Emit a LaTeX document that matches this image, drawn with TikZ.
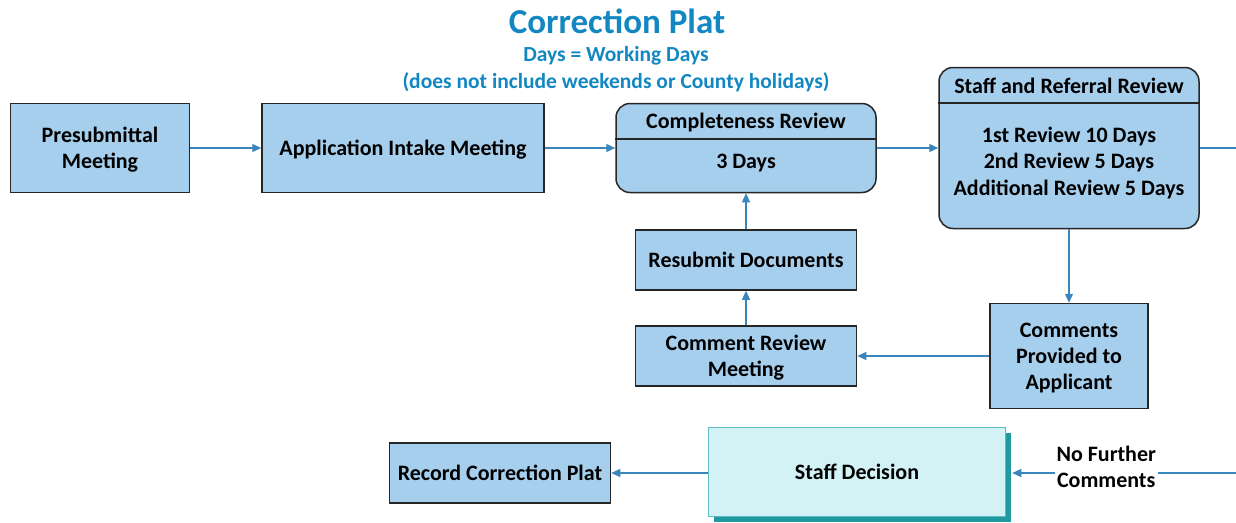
\documentclass[tikz,border=0pt]{standalone}
\usepackage{fontspec}
\setmainfont{Carlito}
\usetikzlibrary{arrows.meta,shadows,calc}
\definecolor{boxblue}{HTML}{A6CFEE}
\definecolor{linkblue}{HTML}{3A86BC}
\definecolor{titleblue}{HTML}{1287C2}
\definecolor{decfill}{HTML}{D3F2F5}
\definecolor{decedge}{HTML}{5FB9C2}
\definecolor{decshadow}{HTML}{1F9AA1}
\tikzset{
  stepbox/.style={draw=black!85, line width=1.5pt, fill=boxblue, font=\fontsize{22}{26}\selectfont\bfseries, align=center, inner sep=0pt, text depth=0pt},
  link/.style={draw=linkblue, line width=1.3pt, -{Triangle[length=9pt,width=8pt]}},
  boxtext/.style={font=\fontsize{22}{26.5}\selectfont\bfseries, align=center, inner sep=0pt, text depth=0pt}
}
\begin{document}
\begin{tikzpicture}[x=1pt,y=-1pt]
			%%%%% START %%%%%
			\useasboundingbox (0,0) rectangle (1236,522);
			
			\node[font=\fontsize{35}{40}\selectfont\bfseries, text=titleblue] (title) at (617,21) {Correction Plat};
			\node[font=\fontsize{21.5}{26}\selectfont\bfseries, text=titleblue] (sub1) at (616,56) {Days = Working Days};
			\node[font=\fontsize{21.5}{26}\selectfont\bfseries, text=titleblue] (sub2) at (616,82) {(does not include weekends or County holidays)};
			
			\node[stepbox, minimum width=179pt, minimum height=89pt] (pre) at (100,148) {Presubmittal\\Meeting};
			\node[stepbox, minimum width=282pt, minimum height=89pt] (intake) at (403,148) {Application Intake Meeting};
			
			\node[stepbox, rounded corners=14pt, minimum width=260pt, minimum height=89pt] (comp) at (746,148) {};
			\draw[black!85, line width=1.5pt] (comp.west |- 0,139) -- (comp.east |- 0,139);
			\node[boxtext] (compT) at (746,121) {Completeness Review};
			\node[boxtext] (compD) at (746,161) {3 Days};
			
			\node[stepbox, rounded corners=14pt, minimum width=260pt, minimum height=161pt] (staff) at (1069,148) {};
			\draw[black!85, line width=1.5pt] (staff.west |- 0,103) -- (staff.east |- 0,103);
			\node[boxtext] (staffT) at (1069,86) {Staff and Referral Review};
			\node[boxtext] (staffD) at (1069,161) {1st Review 10 Days\\2nd Review 5 Days\\Additional Review 5 Days};
			
			\node[stepbox, minimum width=221pt, minimum height=60pt] (resub) at (746,260) {Resubmit Documents};
			\node[stepbox, minimum width=221pt, minimum height=60pt] (crm) at (746,356) {Comment Review\\Meeting};
			\node[stepbox, minimum width=158pt, minimum height=105pt] (cpa) at (1069,356) {Comments\\Provided to\\Applicant};
			
			\node[draw=decedge, line width=1.5pt, fill=decfill, minimum width=297pt, minimum height=89pt,
			  drop shadow={shadow xshift=5pt, shadow yshift=-5pt, opacity=1, fill=decshadow},
			  font=\fontsize{22}{26}\selectfont\bfseries] (dec) at (857,472) {Staff Decision};
			\node[stepbox, minimum width=221pt, minimum height=60pt] (rec) at (500,473) {Record Correction Plat};
			
			\coordinate (outR) at (1236,148);
			\coordinate (inR) at (1236,473);
			
			\draw[link] (pre) -- (intake);
			\draw[link] (intake) -- (comp);
			\draw[link] (comp) -- (staff);
			\draw[linkblue, line width=1.3pt] (staff.east |- outR) -- (outR);
			\draw[link] (staff.south) -- (cpa.north);
			\draw[link] (cpa.west) -- (crm.east);
			\draw[link] (crm.north) -- (resub.south);
			\draw[link] (resub.north) -- (comp.south);
			\draw[link] (inR) -- node[fill=white, boxtext, inner sep=2pt, pos=0.58, yshift=6pt] {No Further\\Comments} ($(dec.east |- inR)+(6,0)$);
			\draw[link] (dec.west |- rec) -- (rec.east);
			
			%%%%% END %%%%%
\end{tikzpicture}
\end{document}
